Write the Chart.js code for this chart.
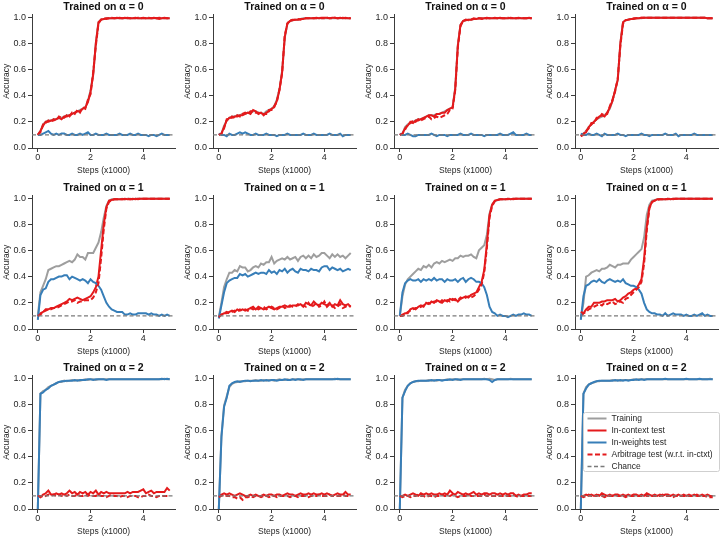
<!DOCTYPE html>
<html>
<head>
<meta charset="utf-8">
<title>Accuracy vs training steps</title>
<script src="https://cdn.jsdelivr.net/npm/chart.js@4.4.0/dist/chart.umd.min.js"></script>
<style>
  body { margin: 0; background: #fff; }
  #grid { position: relative; width: 722px; height: 537px; overflow: hidden; }
  #grid canvas { position: absolute; }
</style>
</head>
<body>
<div id="grid"></div>
<script>
// training steps (x1000)
var steps = [0.0,0.1,0.2,0.3,0.4,0.5,0.6,0.7,0.8,0.9,
             1.0,1.1,1.2,1.3,1.4,1.5,1.6,1.7,1.8,1.9,
             2.0,2.1,2.2,2.3,2.4,2.5,2.6,2.7,2.8,2.9,
             3.0,3.1,3.2,3.3,3.4,3.5,3.6,3.7,3.8,3.9,
             4.0,4.1,4.2,4.3,4.4,4.5,4.6,4.7,4.8,4.9,
             5.0];
var chance = 0.1;
var xTicks = [0, 2, 4];
var yTicks = [0.0, 0.2, 0.4, 0.6, 0.8, 1.0];
var seriesNames = ['Training', 'In-context test', 'In-weights test', 'Arbitrage test (w.r.t. in-ctxt)', 'Chance'];

/* ---- row 1: trained on alpha = 0 ---- */
var train_a0 = [0.10,0.13,0.18,0.20,0.21,0.21,0.22,0.22,0.23,0.23,
  0.24,0.25,0.25,0.26,0.27,0.28,0.29,0.30,0.31,0.36,
  0.44,0.57,0.80,0.96,0.98,0.985,0.99,0.99,0.99,0.99,
  0.99,0.99,0.99,0.99,0.99,0.99,0.99,0.99,0.99,0.99,
  0.99,0.99,0.99,0.99,0.99,0.99,0.99,0.99,0.99,0.99,
  0.99];
var ctx_a0 = [0.10,0.13,0.17,0.20,0.20,0.21,0.21,0.22,0.23,0.22,
  0.24,0.24,0.25,0.26,0.27,0.28,0.28,0.30,0.31,0.35,
  0.43,0.56,0.80,0.96,0.98,0.985,0.99,0.99,0.99,0.99,
  0.995,0.99,0.99,0.995,0.99,0.99,0.99,0.995,0.99,0.99,
  0.995,0.99,0.99,0.99,0.995,0.99,0.985,0.99,0.995,0.99,
  0.99];
var iw_a0 = [0.10,0.10,0.11,0.12,0.13,0.11,0.10,0.11,0.10,0.11,
  0.11,0.10,0.10,0.11,0.10,0.10,0.11,0.10,0.11,0.12,
  0.10,0.10,0.11,0.10,0.10,0.10,0.11,0.10,0.10,0.10,
  0.10,0.11,0.10,0.10,0.10,0.11,0.10,0.10,0.11,0.10,
  0.10,0.10,0.09,0.10,0.10,0.09,0.10,0.11,0.10,0.10,
  0.10];
var arb_a0 = [0.10,0.12,0.18,0.19,0.21,0.20,0.22,0.21,0.24,0.23,
  0.23,0.25,0.24,0.27,0.26,0.29,0.27,0.31,0.30,0.37,
  0.41,0.58,0.78,0.95,0.98,0.99,0.985,0.99,0.995,0.99,
  0.99,0.995,0.99,0.99,0.995,0.99,0.99,0.99,0.995,0.99,
  0.99,0.99,0.995,0.99,0.99,0.99,0.995,0.99,0.99,0.99,
  0.99];

var train_a1 = [0.10,0.11,0.17,0.21,0.23,0.24,0.24,0.25,0.25,0.26,
  0.26,0.27,0.27,0.28,0.28,0.27,0.27,0.26,0.28,0.29,
  0.30,0.32,0.37,0.45,0.59,0.84,0.95,0.97,0.975,0.98,
  0.98,0.985,0.99,0.99,0.99,0.99,0.99,0.99,0.99,0.99,
  0.99,0.99,0.99,0.99,0.99,0.99,0.99,0.99,0.99,0.99,
  0.99];
var ctx_a1 = [0.10,0.11,0.16,0.21,0.23,0.23,0.24,0.24,0.25,0.25,
  0.26,0.27,0.26,0.29,0.28,0.26,0.27,0.25,0.27,0.28,
  0.30,0.31,0.36,0.44,0.58,0.85,0.95,0.97,0.975,0.98,
  0.98,0.985,0.985,0.99,0.99,0.99,0.99,0.995,0.99,0.995,
  0.995,0.995,0.99,0.995,0.995,0.99,0.995,0.99,0.995,0.99,
  0.99];
var iw_a1 = [0.11,0.10,0.10,0.09,0.11,0.10,0.10,0.11,0.12,0.11,
  0.12,0.11,0.10,0.10,0.11,0.10,0.10,0.10,0.11,0.10,
  0.10,0.10,0.09,0.10,0.10,0.10,0.11,0.10,0.10,0.10,
  0.10,0.10,0.11,0.10,0.10,0.10,0.11,0.10,0.10,0.10,
  0.10,0.10,0.11,0.10,0.10,0.10,0.11,0.09,0.10,0.10,
  0.10];
var arb_a1 = [0.10,0.11,0.15,0.22,0.22,0.24,0.23,0.25,0.24,0.26,
  0.27,0.26,0.28,0.28,0.27,0.27,0.26,0.26,0.26,0.29,
  0.29,0.32,0.35,0.45,0.57,0.86,0.95,0.975,0.98,0.98,
  0.985,0.98,0.99,0.99,0.99,0.995,0.99,0.99,0.995,0.99,
  0.99,0.995,0.99,0.99,0.995,0.99,0.99,0.995,0.99,0.99,
  0.99];

var train_a2 = [0.10,0.11,0.16,0.18,0.19,0.20,0.21,0.22,0.22,0.23,
  0.24,0.25,0.25,0.25,0.26,0.26,0.27,0.28,0.29,0.30,
  0.31,0.46,0.79,0.94,0.97,0.975,0.98,0.98,0.985,0.985,
  0.99,0.99,0.99,0.99,0.99,0.99,0.99,0.99,0.99,0.99,
  0.99,0.99,0.99,0.99,0.99,0.99,0.99,0.99,0.99,0.99,
  0.99];
var ctx_a2 = [0.10,0.11,0.15,0.17,0.20,0.19,0.21,0.21,0.22,0.23,
  0.24,0.25,0.25,0.24,0.26,0.26,0.27,0.27,0.29,0.30,
  0.31,0.45,0.78,0.94,0.97,0.975,0.98,0.98,0.985,0.985,
  0.99,0.985,0.99,0.995,0.99,0.99,0.99,0.99,0.995,0.99,
  0.99,0.99,0.995,0.99,0.99,0.995,0.99,0.99,0.99,0.995,
  0.99];
var iw_a2 = [0.11,0.10,0.10,0.11,0.10,0.09,0.09,0.10,0.10,0.10,
  0.10,0.10,0.11,0.10,0.09,0.10,0.10,0.10,0.09,0.10,
  0.10,0.10,0.10,0.11,0.10,0.10,0.10,0.11,0.10,0.10,
  0.10,0.10,0.09,0.10,0.10,0.10,0.10,0.10,0.11,0.10,
  0.10,0.10,0.11,0.12,0.10,0.10,0.10,0.10,0.11,0.10,
  0.10];
var arb_a2 = [0.10,0.11,0.14,0.18,0.19,0.21,0.20,0.22,0.21,0.22,
  0.23,0.24,0.22,0.23,0.24,0.23,0.24,0.25,0.26,0.29,
  0.30,0.44,0.77,0.93,0.97,0.98,0.975,0.98,0.99,0.985,
  0.99,0.99,0.985,0.99,0.99,0.99,0.995,0.99,0.99,0.99,
  0.99,0.995,0.99,0.99,0.99,0.99,0.995,0.99,0.99,0.99,
  0.99];

var train_a3 = [0.10,0.11,0.13,0.16,0.18,0.20,0.22,0.23,0.24,0.25,
  0.27,0.30,0.36,0.44,0.52,0.80,0.96,0.975,0.98,0.985,
  0.985,0.99,0.99,0.99,0.995,0.995,0.995,0.995,0.995,0.995,
  0.995,0.995,0.995,0.995,0.995,0.995,0.995,0.995,0.995,0.995,
  0.995,0.995,0.995,0.995,0.995,0.995,0.995,0.995,0.99,0.99,
  0.99];
var ctx_a3 = [0.09,0.11,0.12,0.16,0.18,0.20,0.22,0.24,0.25,0.24,
  0.27,0.31,0.36,0.44,0.52,0.80,0.96,0.975,0.98,0.985,
  0.985,0.99,0.99,0.995,0.995,0.995,0.995,0.995,0.995,0.995,
  0.995,0.995,0.995,0.995,0.995,0.995,0.995,0.995,0.995,0.995,
  0.995,0.995,0.995,0.995,0.995,0.995,0.995,0.995,0.99,0.99,
  0.99];
var iw_a3 = [0.11,0.10,0.10,0.11,0.10,0.10,0.11,0.10,0.09,0.11,
  0.10,0.10,0.10,0.10,0.11,0.10,0.10,0.09,0.10,0.10,
  0.10,0.10,0.10,0.11,0.10,0.10,0.09,0.10,0.10,0.10,
  0.10,0.10,0.11,0.10,0.10,0.10,0.11,0.09,0.10,0.10,
  0.10,0.10,0.10,0.11,0.10,0.10,0.10,0.10,0.10,0.10,
  0.10];
var arb_a3 = [0.09,0.10,0.13,0.15,0.19,0.19,0.23,0.23,0.26,0.25,
  0.26,0.32,0.37,0.43,0.53,0.78,0.95,0.975,0.98,0.985,
  0.99,0.99,0.99,0.995,0.995,0.995,0.995,0.995,0.995,0.995,
  0.995,0.995,0.995,0.995,0.995,0.995,0.995,0.995,0.995,0.995,
  0.995,0.995,0.995,0.995,0.995,0.995,0.995,0.995,0.99,0.99,
  0.99];

/* ---- row 2: trained on alpha = 1 ---- */
var train_b0 = [0.10,0.28,0.33,0.38,0.45,0.46,0.47,0.48,0.48,0.49,
  0.50,0.51,0.52,0.51,0.53,0.57,0.55,0.55,0.53,0.58,
  0.58,0.58,0.62,0.66,0.74,0.85,0.94,0.98,0.99,0.99,
  0.99,0.99,0.995,0.99,0.995,0.995,0.99,0.995,0.995,0.995,
  0.995,0.995,0.995,0.995,0.995,0.995,0.995,0.995,0.995,0.995,
  0.995];
var ctx_b0 = [0.10,0.12,0.13,0.14,0.15,0.16,0.16,0.17,0.18,0.19,
  0.20,0.21,0.23,0.22,0.23,0.24,0.23,0.22,0.23,0.24,
  0.25,0.28,0.32,0.40,0.60,0.80,0.93,0.98,0.985,0.99,
  0.99,0.99,0.99,0.995,0.99,0.99,0.995,0.99,0.995,0.995,
  0.995,0.995,0.995,0.995,0.995,0.995,0.995,0.995,0.995,0.995,
  0.995];
var iw_b0 = [0.07,0.26,0.30,0.31,0.36,0.38,0.38,0.39,0.40,0.40,
  0.41,0.41,0.38,0.40,0.39,0.38,0.37,0.38,0.37,0.35,
  0.38,0.36,0.35,0.33,0.30,0.25,0.20,0.17,0.15,0.14,
  0.13,0.13,0.13,0.11,0.11,0.12,0.11,0.11,0.12,0.12,
  0.12,0.12,0.11,0.12,0.11,0.11,0.10,0.11,0.10,0.11,
  0.10];
var arb_b0 = [0.10,0.11,0.13,0.15,0.15,0.15,0.16,0.16,0.17,0.18,
  0.19,0.20,0.21,0.21,0.22,0.20,0.21,0.21,0.22,0.22,
  0.22,0.24,0.28,0.35,0.54,0.76,0.92,0.97,0.985,0.99,
  0.99,0.99,0.99,0.99,0.995,0.99,0.99,0.995,0.99,0.995,
  0.995,0.995,0.995,0.995,0.995,0.995,0.995,0.995,0.995,0.995,
  0.995];

var train_b1 = [0.09,0.20,0.32,0.38,0.43,0.43,0.45,0.44,0.48,0.47,
  0.47,0.44,0.45,0.47,0.48,0.47,0.50,0.49,0.51,0.51,
  0.55,0.50,0.52,0.53,0.54,0.53,0.55,0.53,0.54,0.55,
  0.52,0.55,0.56,0.54,0.56,0.54,0.57,0.55,0.56,0.58,
  0.58,0.56,0.54,0.57,0.55,0.57,0.55,0.56,0.54,0.56,
  0.58];
var ctx_b1 = [0.10,0.11,0.12,0.12,0.13,0.14,0.13,0.15,0.14,0.15,
  0.14,0.15,0.16,0.17,0.15,0.17,0.16,0.15,0.16,0.17,
  0.16,0.15,0.16,0.17,0.17,0.18,0.17,0.17,0.18,0.18,
  0.18,0.19,0.17,0.20,0.19,0.18,0.21,0.19,0.18,0.20,
  0.19,0.18,0.20,0.17,0.19,0.18,0.22,0.19,0.18,0.19,
  0.17];
var iw_b1 = [0.08,0.18,0.28,0.35,0.37,0.38,0.39,0.39,0.42,0.41,
  0.42,0.40,0.41,0.42,0.43,0.42,0.43,0.43,0.42,0.45,
  0.43,0.44,0.42,0.45,0.44,0.46,0.43,0.45,0.46,0.44,
  0.43,0.46,0.45,0.45,0.44,0.46,0.45,0.45,0.44,0.47,
  0.48,0.48,0.45,0.47,0.46,0.45,0.46,0.44,0.45,0.46,
  0.45];
var arb_b1 = [0.09,0.11,0.12,0.13,0.12,0.13,0.14,0.13,0.15,0.14,
  0.15,0.14,0.16,0.15,0.16,0.15,0.16,0.17,0.15,0.16,
  0.17,0.16,0.15,0.16,0.18,0.16,0.17,0.18,0.17,0.17,
  0.19,0.18,0.18,0.17,0.20,0.17,0.18,0.20,0.17,0.18,
  0.21,0.17,0.19,0.18,0.16,0.17,0.19,0.16,0.17,0.18,
  0.17];

var train_b2 = [0.10,0.25,0.34,0.38,0.40,0.42,0.44,0.46,0.45,0.48,
  0.47,0.49,0.47,0.50,0.51,0.50,0.52,0.51,0.52,0.53,
  0.52,0.54,0.54,0.56,0.55,0.56,0.56,0.57,0.55,0.54,
  0.60,0.62,0.64,0.72,0.88,0.95,0.975,0.985,0.99,0.99,
  0.99,0.995,0.99,0.995,0.995,0.995,0.995,0.995,0.995,0.995,
  0.995];
var ctx_b2 = [0.10,0.11,0.12,0.12,0.15,0.16,0.15,0.17,0.18,0.17,
  0.20,0.19,0.21,0.20,0.22,0.21,0.20,0.22,0.21,0.23,
  0.22,0.23,0.21,0.23,0.24,0.25,0.24,0.26,0.27,0.28,
  0.32,0.36,0.45,0.65,0.87,0.95,0.98,0.985,0.99,0.99,
  0.99,0.995,0.99,0.995,0.995,0.995,0.995,0.995,0.995,0.995,
  0.995];
var iw_b2 = [0.10,0.28,0.35,0.37,0.38,0.37,0.37,0.38,0.36,0.38,
  0.37,0.38,0.37,0.39,0.37,0.38,0.38,0.36,0.38,0.37,
  0.37,0.38,0.36,0.38,0.39,0.36,0.38,0.39,0.38,0.36,
  0.36,0.35,0.32,0.26,0.17,0.13,0.12,0.10,0.11,0.10,
  0.10,0.09,0.10,0.11,0.10,0.11,0.11,0.12,0.11,0.11,
  0.10];
var arb_b2 = [0.10,0.10,0.11,0.13,0.14,0.15,0.16,0.16,0.17,0.18,
  0.19,0.20,0.19,0.21,0.21,0.20,0.22,0.21,0.22,0.21,
  0.23,0.22,0.22,0.24,0.23,0.24,0.25,0.24,0.25,0.27,
  0.30,0.34,0.43,0.62,0.85,0.94,0.975,0.985,0.99,0.99,
  0.99,0.99,0.995,0.99,0.995,0.995,0.995,0.995,0.995,0.995,
  0.995];

var train_b3 = [0.08,0.20,0.40,0.41,0.43,0.44,0.45,0.44,0.46,0.46,
  0.47,0.49,0.48,0.47,0.49,0.49,0.50,0.50,0.50,0.53,
  0.55,0.57,0.59,0.61,0.70,0.87,0.95,0.98,0.985,0.99,
  0.99,0.99,0.99,0.995,0.99,0.995,0.995,0.995,0.995,0.995,
  0.995,0.995,0.995,0.995,0.995,0.995,0.995,0.995,0.995,0.995,
  0.995];
var ctx_b3 = [0.10,0.12,0.15,0.17,0.17,0.20,0.20,0.20,0.21,0.21,
  0.22,0.22,0.22,0.23,0.21,0.22,0.24,0.25,0.27,0.28,
  0.30,0.31,0.34,0.38,0.54,0.78,0.93,0.97,0.98,0.99,
  0.99,0.99,0.99,0.995,0.99,0.995,0.995,0.995,0.995,0.995,
  0.995,0.995,0.995,0.995,0.995,0.995,0.995,0.995,0.995,0.995,
  0.995];
var iw_b3 = [0.07,0.25,0.33,0.34,0.36,0.37,0.36,0.38,0.36,0.35,
  0.37,0.38,0.37,0.36,0.37,0.36,0.38,0.35,0.34,0.33,
  0.33,0.32,0.30,0.27,0.20,0.15,0.13,0.12,0.12,0.11,
  0.11,0.10,0.12,0.10,0.11,0.12,0.11,0.11,0.11,0.10,
  0.11,0.10,0.10,0.11,0.10,0.11,0.12,0.10,0.11,0.10,
  0.10];
var arb_b3 = [0.13,0.12,0.13,0.15,0.16,0.17,0.18,0.19,0.18,0.20,
  0.19,0.20,0.21,0.19,0.20,0.21,0.20,0.23,0.24,0.26,
  0.28,0.30,0.32,0.36,0.50,0.75,0.92,0.97,0.98,0.985,
  0.99,0.99,0.99,0.99,0.995,0.99,0.995,0.995,0.995,0.995,
  0.995,0.995,0.995,0.995,0.995,0.995,0.995,0.995,0.995,0.995,
  0.995];

/* ---- row 3: trained on alpha = 2 ---- */
var train_c0 = [0.00,0.88,0.90,0.91,0.93,0.94,0.95,0.96,0.97,0.97,
  0.98,0.975,0.98,0.985,0.98,0.985,0.98,0.985,0.99,0.985,
  0.99,0.99,0.985,0.99,0.99,0.99,0.99,0.99,0.99,0.99,
  0.99,0.99,0.99,0.99,0.99,0.99,0.99,0.99,0.99,0.99,
  0.99,0.99,0.99,0.99,0.99,0.99,0.99,0.99,0.995,0.99,
  0.99];
var ctx_c0 = [0.10,0.09,0.11,0.12,0.14,0.11,0.11,0.12,0.11,0.12,
  0.11,0.12,0.14,0.12,0.13,0.11,0.13,0.12,0.13,0.11,
  0.13,0.12,0.14,0.11,0.13,0.12,0.13,0.12,0.12,0.12,
  0.12,0.12,0.12,0.12,0.13,0.12,0.13,0.13,0.13,0.14,
  0.15,0.12,0.13,0.14,0.12,0.13,0.13,0.13,0.13,0.16,
  0.14];
var iw_c0 = [0.00,0.88,0.89,0.91,0.92,0.94,0.95,0.96,0.97,0.975,
  0.975,0.98,0.98,0.98,0.985,0.98,0.985,0.985,0.985,0.99,
  0.99,0.985,0.99,0.99,0.99,0.99,0.985,0.99,0.99,0.99,
  0.99,0.99,0.99,0.99,0.99,0.99,0.99,0.99,0.99,0.99,
  0.99,0.99,0.99,0.99,0.99,0.99,0.99,0.995,0.99,0.995,
  0.99];
var arb_c0 = [0.10,0.10,0.09,0.10,0.11,0.10,0.11,0.10,0.11,0.10,
  0.11,0.10,0.11,0.10,0.10,0.11,0.10,0.10,0.11,0.10,
  0.11,0.10,0.10,0.11,0.10,0.10,0.09,0.10,0.11,0.10,
  0.10,0.09,0.10,0.10,0.09,0.10,0.10,0.10,0.09,0.09,
  0.10,0.10,0.11,0.10,0.10,0.09,0.10,0.10,0.10,0.10,
  0.10];

var train_c1 = [0.00,0.56,0.79,0.86,0.93,0.955,0.965,0.97,0.975,0.975,
  0.975,0.98,0.98,0.98,0.985,0.98,0.98,0.985,0.98,0.985,
  0.985,0.98,0.985,0.99,0.985,0.985,0.99,0.985,0.99,0.99,
  0.99,0.985,0.99,0.99,0.99,0.99,0.99,0.99,0.99,0.99,
  0.99,0.99,0.99,0.99,0.995,0.99,0.99,0.99,0.99,0.99,
  0.99];
var ctx_c1 = [0.10,0.11,0.12,0.11,0.12,0.11,0.10,0.11,0.12,0.11,
  0.10,0.10,0.11,0.10,0.11,0.10,0.10,0.11,0.10,0.11,
  0.11,0.10,0.11,0.11,0.10,0.11,0.12,0.11,0.11,0.10,
  0.11,0.12,0.11,0.11,0.12,0.11,0.12,0.11,0.11,0.12,
  0.11,0.12,0.11,0.10,0.11,0.12,0.11,0.11,0.13,0.11,
  0.11];
var iw_c1 = [0.00,0.55,0.78,0.85,0.94,0.96,0.97,0.975,0.97,0.975,
  0.98,0.98,0.975,0.98,0.98,0.98,0.985,0.98,0.985,0.98,
  0.985,0.985,0.98,0.985,0.985,0.99,0.985,0.985,0.99,0.985,
  0.99,0.99,0.985,0.99,0.99,0.99,0.99,0.99,0.99,0.99,
  0.99,0.99,0.99,0.99,0.99,0.995,0.99,0.99,0.99,0.99,
  0.99];
var arb_c1 = [0.09,0.10,0.11,0.10,0.10,0.09,0.09,0.08,0.09,0.07,
  0.09,0.09,0.10,0.09,0.10,0.10,0.09,0.10,0.10,0.09,
  0.10,0.10,0.09,0.10,0.10,0.10,0.10,0.09,0.10,0.10,
  0.09,0.10,0.10,0.10,0.09,0.10,0.10,0.10,0.11,0.10,
  0.10,0.10,0.11,0.10,0.10,0.10,0.10,0.11,0.10,0.10,
  0.10];

var train_c2 = [0.00,0.85,0.91,0.94,0.96,0.97,0.975,0.975,0.98,0.98,
  0.98,0.985,0.98,0.985,0.98,0.985,0.985,0.985,0.99,0.985,
  0.99,0.99,0.985,0.99,0.99,0.99,0.99,0.99,0.99,0.99,
  0.99,0.99,0.995,0.99,0.995,0.99,0.985,0.99,0.99,0.99,
  0.99,0.99,0.995,0.99,0.99,0.99,0.99,0.99,0.99,0.99,
  0.99];
var ctx_c2 = [0.10,0.10,0.11,0.10,0.11,0.12,0.11,0.10,0.12,0.11,
  0.12,0.11,0.12,0.11,0.11,0.12,0.11,0.12,0.11,0.14,
  0.12,0.11,0.13,0.12,0.11,0.12,0.11,0.12,0.13,0.11,
  0.12,0.11,0.12,0.12,0.11,0.12,0.12,0.11,0.12,0.11,
  0.12,0.11,0.12,0.12,0.10,0.11,0.10,0.11,0.11,0.12,
  0.12];
var iw_c2 = [0.00,0.85,0.90,0.94,0.96,0.97,0.975,0.98,0.98,0.98,
  0.98,0.98,0.985,0.98,0.985,0.985,0.98,0.985,0.985,0.99,
  0.985,0.99,0.99,0.985,0.99,0.99,0.99,0.99,0.99,0.99,
  0.99,0.99,0.99,0.99,0.985,0.97,0.985,0.99,0.99,0.99,
  0.99,0.99,0.99,0.99,0.99,0.99,0.99,0.99,0.99,0.99,
  0.99];
var arb_c2 = [0.10,0.09,0.10,0.10,0.09,0.10,0.10,0.11,0.10,0.10,
  0.09,0.10,0.10,0.09,0.10,0.10,0.11,0.10,0.10,0.10,
  0.11,0.10,0.09,0.10,0.10,0.10,0.11,0.10,0.10,0.10,
  0.10,0.10,0.11,0.10,0.10,0.10,0.10,0.10,0.10,0.10,
  0.10,0.10,0.10,0.11,0.10,0.09,0.10,0.10,0.10,0.10,
  0.10];

var train_c3 = [0.00,0.88,0.93,0.95,0.96,0.965,0.975,0.975,0.98,0.98,
  0.98,0.98,0.985,0.98,0.985,0.98,0.985,0.985,0.985,0.985,
  0.99,0.985,0.99,0.99,0.99,0.99,0.99,0.99,0.99,0.99,
  0.99,0.99,0.99,0.99,0.99,0.99,0.99,0.99,0.99,0.99,
  0.99,0.99,0.99,0.99,0.99,0.99,0.99,0.99,0.99,0.995,
  0.99];
var ctx_c3 = [0.10,0.10,0.11,0.10,0.11,0.10,0.11,0.10,0.12,0.11,
  0.10,0.11,0.10,0.11,0.11,0.10,0.11,0.10,0.11,0.10,
  0.11,0.11,0.10,0.11,0.10,0.12,0.11,0.10,0.11,0.10,
  0.11,0.10,0.11,0.11,0.10,0.11,0.10,0.11,0.10,0.11,
  0.10,0.11,0.10,0.11,0.10,0.10,0.11,0.10,0.11,0.10,
  0.10];
var iw_c3 = [0.00,0.88,0.92,0.95,0.96,0.97,0.975,0.98,0.98,0.98,
  0.98,0.98,0.98,0.985,0.98,0.985,0.98,0.985,0.98,0.985,
  0.985,0.99,0.985,0.99,0.985,0.99,0.99,0.99,0.99,0.99,
  0.99,0.99,0.995,0.99,0.99,0.99,0.99,0.99,0.99,0.99,
  0.995,0.99,0.99,0.99,0.99,0.995,0.99,0.99,0.99,0.99,
  0.99];
var arb_c3 = [0.10,0.09,0.10,0.11,0.10,0.10,0.10,0.11,0.10,0.09,
  0.10,0.10,0.10,0.11,0.10,0.10,0.10,0.09,0.10,0.10,
  0.10,0.10,0.10,0.10,0.11,0.10,0.10,0.10,0.10,0.10,
  0.10,0.11,0.10,0.10,0.10,0.09,0.10,0.10,0.10,0.10,
  0.10,0.10,0.10,0.10,0.11,0.10,0.10,0.10,0.09,0.09,
  0.09];

var panels = [
  [0, train_a0, ctx_a0, iw_a0, arb_a0], [0, train_a1, ctx_a1, iw_a1, arb_a1],
  [0, train_a2, ctx_a2, iw_a2, arb_a2], [0, train_a3, ctx_a3, iw_a3, arb_a3],
  [1, train_b0, ctx_b0, iw_b0, arb_b0], [1, train_b1, ctx_b1, iw_b1, arb_b1],
  [1, train_b2, ctx_b2, iw_b2, arb_b2], [1, train_b3, ctx_b3, iw_b3, arb_b3],
  [2, train_c0, ctx_c0, iw_c0, arb_c0], [2, train_c1, ctx_c1, iw_c1, arb_c1],
  [2, train_c2, ctx_c2, iw_c2, arb_c2], [2, train_c3, ctx_c3, iw_c3, arb_c3]
];

var FONT = "'Liberation Sans', Arial, sans-serif";
var AXIS = '#3c3c3c';
var TEXT = '#262626';
var X_MIN = -0.22, X_MAX = 5.2, Y_MAX = 1.02;
var rowTop = [0, 181, 361];
var styles = [
  {color: '#9e9e9e', dash: [], width: 2},
  {color: '#e41a1c', dash: [], width: 2},
  {color: '#377eb8', dash: [], width: 2},
  {color: '#e41a1c', dash: [5, 2.5], width: 2},
  {color: '#7a7a7a', dash: [4, 2.5], width: 1.3}
];

function pts(vals) {
    return vals.map(function (v, i) { return {x: steps[i], y: v}; });
}

// legend drawn inside the plot area of the last panel
var legendBox = {
    id: 'legendBox',
    afterDraw: function (chart) {
        if (!chart.options.plugins.legendBox.show) return;
        var ca = chart.chartArea, c = chart.ctx;
        var x = Math.round(ca.left + 8) + 0.5, y = Math.round(ca.top + 37) + 0.5, w = 136, h = 59;
        c.save();
        c.fillStyle = 'rgba(255,255,255,0.85)';
        c.strokeStyle = '#cfcfcf';
        c.lineWidth = 1;
        c.beginPath();
        c.roundRect(x, y, w, h, 2);
        c.fill();
        c.stroke();
        c.font = '8.5px ' + FONT;
        c.textBaseline = 'middle';
        var sets = chart.data.datasets.slice().reverse();
        sets.forEach(function (ds, i) {
            var ly = y + 6 + i * 12;
            c.strokeStyle = ds.borderColor;
            c.lineWidth = ds.borderWidth;
            c.setLineDash(ds.borderDash);
            c.beginPath();
            c.moveTo(x + 4, ly);
            c.lineTo(x + 23, ly);
            c.stroke();
            c.setLineDash([]);
            c.fillStyle = TEXT;
            c.fillText(ds.label, x + 28, ly);
        });
        c.restore();
    }
};

var grid = document.getElementById('grid');

panels.forEach(function (p, k) {
    var row = Math.floor(k / 4), col = k % 4;
    var cv = document.createElement('canvas');
    var w = col < 3 ? 181 : 179;
    cv.width = w;
    cv.height = 176;
    cv.style.left = (col * 181) + 'px';
    cv.style.top = rowTop[row] + 'px';
    cv.style.width = w + 'px';
    cv.style.height = '176px';
    grid.appendChild(cv);

    var series = [p[1], p[2], p[3], p[4]];
    var datasets = series.map(function (s, i) {
        return {label: seriesNames[i], data: pts(s)};
    });
    datasets.push({label: seriesNames[4], data: [{x: X_MIN, y: chance}, {x: X_MAX, y: chance}]});
    datasets.forEach(function (ds, i) {
        ds.borderColor = styles[i].color;
        ds.borderDash = styles[i].dash;
        ds.borderWidth = styles[i].width;
        ds.pointRadius = 0;
        ds.fill = false;
        ds.tension = 0;
    });
    // first dataset is drawn on top in Chart.js, so reverse
    datasets.reverse();

    new Chart(cv.getContext('2d'), {
        type: 'line',
        data: {datasets: datasets},
        plugins: [legendBox],
        options: {
            responsive: false,
            animation: false,
            layout: {padding: {left: 0, right: w - 32 - 143, top: 0, bottom: 0}},
            plugins: {
                legend: {display: false},
                tooltip: {enabled: false},
                legendBox: {show: k === 11},
                title: {
                    display: true,
                    text: 'Trained on α = ' + p[0],
                    fullSize: false,
                    color: '#111',
                    font: {family: FONT, size: 10.5, weight: 'bold'},
                    padding: {top: 1, bottom: 0.8}
                }
            },
            scales: {
                x: {
                    type: 'linear',
                    min: X_MIN,
                    max: X_MAX,
                    afterBuildTicks: function (s) { s.ticks = xTicks.map(function (v) { return {value: v}; }); },
                    afterFit: function (s) { s.height = 28; },
                    ticks: {color: TEXT, font: {family: FONT, size: 9}, padding: 0, maxRotation: 0,
                        callback: function (v) { return String(v); }},
                    grid: {drawOnChartArea: false, tickLength: 4, color: AXIS, lineWidth: 1},
                    border: {color: AXIS, width: 1},
                    title: {display: true, text: 'Steps (x1000)', color: TEXT,
                        font: {family: FONT, size: 8.5}, padding: {top: 0, bottom: 0}}
                },
                y: {
                    min: 0,
                    max: Y_MAX,
                    afterBuildTicks: function (s) { s.ticks = yTicks.map(function (v) { return {value: v}; }); },
                    afterFit: function (s) { s.width = 32; },
                    ticks: {color: TEXT, font: {family: FONT, size: 9}, padding: 2,
                        callback: function (v) { return v.toFixed(1); }},
                    grid: {drawOnChartArea: false, tickLength: 4, color: AXIS, lineWidth: 1},
                    border: {color: AXIS, width: 1},
                    title: {display: true, text: 'Accuracy', color: TEXT,
                        font: {family: FONT, size: 8.5}, padding: {top: 1.5, bottom: 0}}
                }
            }
        }
    });
});
</script>
</body>
</html>
